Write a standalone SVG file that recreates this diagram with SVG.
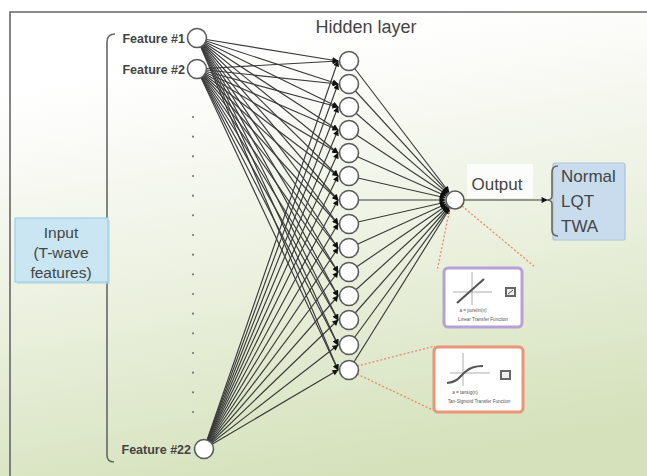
<svg xmlns="http://www.w3.org/2000/svg" width="647" height="476" viewBox="0 0 647 476">
  <defs>
    <linearGradient id="bg" gradientUnits="userSpaceOnUse" x1="290" y1="40" x2="370" y2="476">
      <stop offset="0" stop-color="#ffffff"/>
      <stop offset="0.12" stop-color="#fbfbf8"/>
      <stop offset="0.5" stop-color="#ebf1df"/>
      <stop offset="1" stop-color="#d4e1ba"/>
    </linearGradient>
    <marker id="ah" viewBox="0 0 10 10" refX="9" refY="5" markerWidth="7" markerHeight="6" markerUnits="userSpaceOnUse" orient="auto">
      <path d="M0,0 L10,5 L0,10 z" fill="#111"/>
    </marker>
    <style>
      text { font-family: "Liberation Sans", Arial, sans-serif; }
      .w { stroke: #3a3a3a; stroke-width: 1.15; fill: none; marker-end: url(#ah); }
      .node { fill: #ffffff; stroke: #5a5a5a; stroke-width: 1.6; }
      .flab { font-size: 12.5px; font-weight: bold; fill: #444; text-anchor: end; }
      .brace { fill: none; stroke: #666; stroke-width: 1.6; }
      .dot { fill: #777; }
      .red { stroke: #e8896a; stroke-width: 1.3; stroke-dasharray: 2 2; fill: none; }
      .tiny { font-size: 4.6px; fill: #555; text-anchor: middle; }
      .axis { stroke: #999; stroke-width: 0.8; fill: none; }
      .big { font-size: 15.5px; fill: #444; text-anchor: middle; }
    </style>
  </defs>

  <!-- background and frame -->
  <rect x="0" y="0" width="647" height="476" fill="#ffffff"/>
  <rect x="0" y="12" width="647" height="464" fill="url(#bg)"/>
  <path d="M10,476 L10,12 L647,12" fill="none" stroke="#666" stroke-width="1.6"/>

  <!-- connectors -->
  <g id="connectors">
    <!-- Feature #1 to hidden -->
    <line class="w" x1="197" y1="38" x2="338" y2="61"/>
    <line class="w" x1="197" y1="38" x2="338" y2="84"/>
    <line class="w" x1="197" y1="38" x2="338" y2="107"/>
    <line class="w" x1="197" y1="38" x2="338" y2="130"/>
    <line class="w" x1="197" y1="38" x2="338" y2="153"/>
    <line class="w" x1="197" y1="38" x2="338" y2="176"/>
    <line class="w" x1="197" y1="38" x2="338" y2="200"/>
    <line class="w" x1="197" y1="38" x2="338" y2="224"/>
    <line class="w" x1="197" y1="38" x2="338" y2="248"/>
    <line class="w" x1="197" y1="38" x2="338" y2="272"/>
    <line class="w" x1="197" y1="38" x2="338" y2="296"/>
    <line class="w" x1="197" y1="38" x2="338" y2="320"/>
    <line class="w" x1="197" y1="38" x2="338" y2="345"/>
    <line class="w" x1="197" y1="38" x2="338" y2="370"/>
    <!-- Feature #2 to hidden -->
    <line class="w" x1="197" y1="69" x2="338" y2="61"/>
    <line class="w" x1="197" y1="69" x2="338" y2="84"/>
    <line class="w" x1="197" y1="69" x2="338" y2="107"/>
    <line class="w" x1="197" y1="69" x2="338" y2="130"/>
    <line class="w" x1="197" y1="69" x2="338" y2="153"/>
    <line class="w" x1="197" y1="69" x2="338" y2="176"/>
    <line class="w" x1="197" y1="69" x2="338" y2="200"/>
    <line class="w" x1="197" y1="69" x2="338" y2="224"/>
    <line class="w" x1="197" y1="69" x2="338" y2="248"/>
    <line class="w" x1="197" y1="69" x2="338" y2="272"/>
    <line class="w" x1="197" y1="69" x2="338" y2="296"/>
    <line class="w" x1="197" y1="69" x2="338" y2="320"/>
    <line class="w" x1="197" y1="69" x2="338" y2="345"/>
    <line class="w" x1="197" y1="69" x2="338" y2="370"/>
    <!-- Feature #22 to hidden -->
    <line class="w" x1="204" y1="449" x2="338" y2="61"/>
    <line class="w" x1="204" y1="449" x2="338" y2="84"/>
    <line class="w" x1="204" y1="449" x2="338" y2="107"/>
    <line class="w" x1="204" y1="449" x2="338" y2="130"/>
    <line class="w" x1="204" y1="449" x2="338" y2="153"/>
    <line class="w" x1="204" y1="449" x2="338" y2="176"/>
    <line class="w" x1="204" y1="449" x2="338" y2="200"/>
    <line class="w" x1="204" y1="449" x2="338" y2="224"/>
    <line class="w" x1="204" y1="449" x2="338" y2="248"/>
    <line class="w" x1="204" y1="449" x2="338" y2="272"/>
    <line class="w" x1="204" y1="449" x2="338" y2="296"/>
    <line class="w" x1="204" y1="449" x2="338" y2="320"/>
    <line class="w" x1="204" y1="449" x2="338" y2="345"/>
    <line class="w" x1="204" y1="449" x2="338" y2="370"/>
    <!-- hidden to output -->
    <line class="w" x1="349" y1="61" x2="448.9" y2="192.0"/>
    <line class="w" x1="349" y1="84" x2="448.3" y2="192.6"/>
    <line class="w" x1="349" y1="107" x2="447.5" y2="193.4"/>
    <line class="w" x1="349" y1="130" x2="446.7" y2="194.5"/>
    <line class="w" x1="349" y1="153" x2="445.9" y2="196.0"/>
    <line class="w" x1="349" y1="176" x2="445.2" y2="197.8"/>
    <line class="w" x1="349" y1="200" x2="445" y2="200"/>
    <line class="w" x1="349" y1="224" x2="445.2" y2="202.2"/>
    <line class="w" x1="349" y1="248" x2="445.9" y2="204.1"/>
    <line class="w" x1="349" y1="272" x2="446.7" y2="205.6"/>
    <line class="w" x1="349" y1="296" x2="447.6" y2="206.7"/>
    <line class="w" x1="349" y1="320" x2="448.4" y2="207.5"/>
    <line class="w" x1="349" y1="345" x2="449.1" y2="208.1"/>
    <line class="w" x1="349" y1="370" x2="449.7" y2="208.5"/>
    <!-- output to classes -->
    <line class="w" x1="464" y1="200" x2="547" y2="200"/>
    <!-- transfer function call-outs -->
    <line class="red" x1="450" y1="208" x2="437" y2="271"/>
    <line class="red" x1="462" y1="206" x2="535" y2="267"/>
    <line class="red" x1="357" y1="366" x2="435" y2="346"/>
    <line class="red" x1="357" y1="374" x2="437" y2="412"/>
  </g>

  <!-- input brace -->
  <path class="brace" d="M115,34 Q107,34 107,42 L107,244 Q107,249 102,250 Q107,251 107,256 L107,455 Q107,462 114,462"/>

  <!-- input label -->
  <g id="input-box">
    <rect x="17" y="220" width="93" height="64" fill="#b8d3dd" opacity="0.6"/>
    <rect x="15" y="218" width="93" height="64" fill="#c9e6f2" stroke="#9dd0e6" stroke-width="1.2"/>
    <text class="big" x="61" y="238">Input</text>
    <text class="big" x="61" y="258">(T-wave</text>
    <text class="big" x="61" y="278">features)</text>
  </g>

  <!-- input nodes -->
  <g id="in1">
    <circle class="node" cx="197" cy="38" r="9.5"/>
    <text class="flab" x="185" y="42.5">Feature #1</text>
  </g>
  <g id="in2">
    <circle class="node" cx="197" cy="69" r="9.5"/>
    <text class="flab" x="185" y="73.5">Feature #2</text>
  </g>
  <g id="in22">
    <circle class="node" cx="204" cy="449" r="9.5"/>
    <text class="flab" x="191" y="453.5">Feature #22</text>
  </g>
  <g id="in-ellipsis">
    <circle class="dot" cx="193" cy="117" r="1.1"/>
    <circle class="dot" cx="193" cy="136.7" r="1.1"/>
    <circle class="dot" cx="193" cy="156.3" r="1.1"/>
    <circle class="dot" cx="193" cy="176" r="1.1"/>
    <circle class="dot" cx="193" cy="195.7" r="1.1"/>
    <circle class="dot" cx="193" cy="215.3" r="1.1"/>
    <circle class="dot" cx="193" cy="235" r="1.1"/>
    <circle class="dot" cx="193" cy="254.7" r="1.1"/>
    <circle class="dot" cx="193" cy="274.3" r="1.1"/>
    <circle class="dot" cx="193" cy="294" r="1.1"/>
    <circle class="dot" cx="193" cy="313.7" r="1.1"/>
    <circle class="dot" cx="193" cy="333.3" r="1.1"/>
    <circle class="dot" cx="193" cy="353" r="1.1"/>
    <circle class="dot" cx="193" cy="372.7" r="1.1"/>
    <circle class="dot" cx="193" cy="392.3" r="1.1"/>
    <circle class="dot" cx="193" cy="412" r="1.1"/>
  </g>

  <!-- hidden layer -->
  <text x="366" y="33" font-size="18" fill="#444" text-anchor="middle">Hidden layer</text>
  <g id="h1"><circle class="node" cx="349" cy="61" r="9.5"/></g>
  <g id="h2"><circle class="node" cx="349" cy="84" r="9.5"/></g>
  <g id="h3"><circle class="node" cx="349" cy="107" r="9.5"/></g>
  <g id="h4"><circle class="node" cx="349" cy="130" r="9.5"/></g>
  <g id="h5"><circle class="node" cx="349" cy="153" r="9.5"/></g>
  <g id="h6"><circle class="node" cx="349" cy="176" r="9.5"/></g>
  <g id="h7"><circle class="node" cx="349" cy="200" r="9.5"/></g>
  <g id="h8"><circle class="node" cx="349" cy="224" r="9.5"/></g>
  <g id="h9"><circle class="node" cx="349" cy="248" r="9.5"/></g>
  <g id="h10"><circle class="node" cx="349" cy="272" r="9.5"/></g>
  <g id="h11"><circle class="node" cx="349" cy="296" r="9.5"/></g>
  <g id="h12"><circle class="node" cx="349" cy="320" r="9.5"/></g>
  <g id="h13"><circle class="node" cx="349" cy="345" r="9.5"/></g>
  <g id="h14"><circle class="node" cx="349" cy="370" r="9.5"/></g>

  <!-- output node -->
  <g id="out">
    <rect x="467" y="164" width="66" height="34" fill="#ffffff" opacity="0.8"/>
    <text x="497" y="190" font-size="17" fill="#444" text-anchor="middle">Output</text>
    <circle class="node" cx="455" cy="200" r="9"/>
  </g>

  <!-- output classes -->
  <g id="output-box">
    <rect x="553" y="163" width="72" height="77" rx="2" fill="#c8dcee" stroke="#a9c4dc" stroke-width="1.2"/>
    <path class="brace" d="M558,166 Q552,166 552,172 L552,196 Q552,200 547,200 Q552,200 552,204 L552,230 Q552,236 558,236"/>
    <text x="561" y="182" font-size="17" fill="#444">Normal</text>
    <text x="561" y="207" font-size="17" fill="#444">LQT</text>
    <text x="561" y="232" font-size="17" fill="#444">TWA</text>
  </g>

  <!-- linear transfer function -->
  <g id="linear-fn">
    <rect x="444" y="268" width="78" height="59" rx="4" fill="#ffffff" stroke="#b7a0d6" stroke-width="3"/>
    <line class="axis" x1="453" y1="292" x2="492" y2="292"/>
    <line class="axis" x1="472" y1="272" x2="472" y2="305"/>
    <line x1="457" y1="303" x2="484" y2="279" stroke="#555" stroke-width="2.2"/>
    <rect x="505" y="287" width="11" height="10" fill="#666"/>
    <rect x="507" y="289" width="7" height="6" fill="#eee"/>
    <path d="M508,294 L513,290" stroke="#444" stroke-width="1"/>
    <text class="tiny" x="473" y="312">a = purelin(n)</text>
    <text class="tiny" x="483" y="321">Linear Transfer Function</text>
  </g>

  <!-- tan-sigmoid transfer function -->
  <g id="sigmoid-fn">
    <rect x="434" y="347" width="89" height="65" rx="4" fill="#ffffff" stroke="#eb9478" stroke-width="3"/>
    <line class="axis" x1="450" y1="373" x2="490" y2="373"/>
    <line class="axis" x1="463" y1="353" x2="463" y2="386"/>
    <path d="M447,383 C458,382 460,376 465,372 C470,368 474,366 483,366" fill="none" stroke="#555" stroke-width="2.2"/>
    <rect x="500" y="370" width="11" height="10" fill="#666"/>
    <rect x="502" y="372" width="7" height="6" fill="#eee"/>
    <text class="tiny" x="465" y="394">a = tansig(n)</text>
    <text class="tiny" x="479" y="403">Tan-Sigmoid Transfer Function</text>
  </g>
</svg>
